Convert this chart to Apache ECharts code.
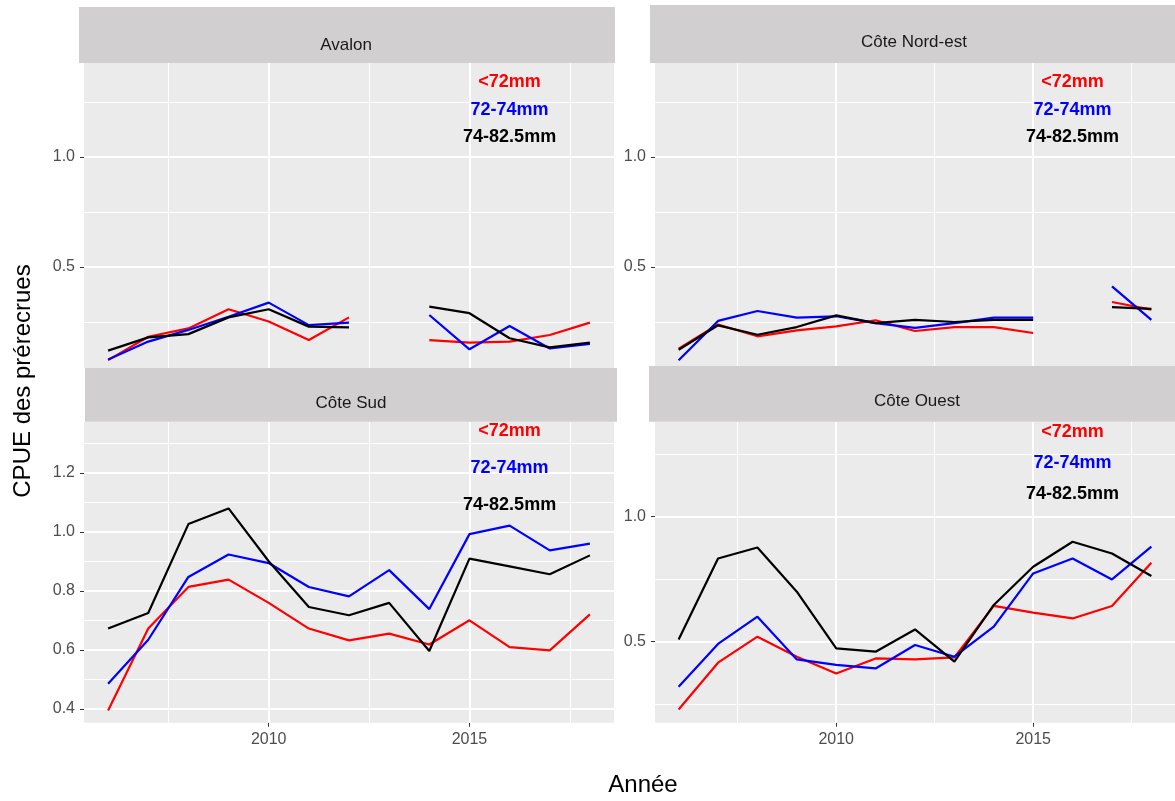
<!DOCTYPE html>
<html><head><meta charset="utf-8">
<script src="https://cdn.jsdelivr.net/npm/echarts@6/dist/echarts.min.js"></script>
<style>html,body{margin:0;padding:0;background:#fff}#c{width:1175px;height:801px}</style>
</head><body><div id="c"></div>
<script>
// ---------- data ----------
const years = [2006, 2007, 2008, 2009, 2010, 2011, 2012, 2013, 2014, 2015, 2016, 2017, 2018];
const panelNames = ['Avalon', 'Côte Nord-est', 'Côte Sud', 'Côte Ouest'];
const classNames = ['<72mm', '72-74mm', '74-82.5mm'];

const avalon_lt72   = [0.077, 0.183, 0.221, 0.308, 0.252, 0.168, 0.271, null, 0.168, 0.156, 0.161, 0.191, 0.247];
const avalon_72_74  = [0.080, 0.161, 0.214, 0.274, 0.338, 0.236, 0.247, null, 0.282, 0.126, 0.232, 0.130, 0.150];
const avalon_74_825 = [0.120, 0.180, 0.195, 0.271, 0.308, 0.229, 0.226, null, 0.320, 0.290, 0.176, 0.135, 0.156];

const nordest_lt72   = [0.129, 0.239, 0.185, 0.212, 0.230, 0.258, 0.209, 0.227, 0.227, 0.200, null, 0.341, 0.306];
const nordest_72_74  = [0.076, 0.255, 0.300, 0.270, 0.276, 0.245, 0.223, 0.245, 0.270, 0.270, null, 0.412, 0.260];
const nordest_74_825 = [0.124, 0.235, 0.192, 0.227, 0.280, 0.245, 0.260, 0.250, 0.260, 0.260, null, 0.318, 0.310];

const sud_lt72   = [0.394, 0.672, 0.813, 0.838, 0.759, 0.672, 0.632, 0.655, 0.618, 0.700, 0.609, 0.598, 0.720];
const sud_72_74  = [0.485, 0.634, 0.847, 0.923, 0.894, 0.813, 0.781, 0.870, 0.738, 0.992, 1.021, 0.937, 0.960];
const sud_74_825 = [0.672, 0.725, 1.026, 1.079, 0.900, 0.745, 0.717, 0.759, 0.596, 0.909, 0.883, 0.856, 0.920];

const ouest_lt72   = [0.229, 0.416, 0.520, 0.440, 0.373, 0.433, 0.429, 0.437, 0.643, 0.616, 0.593, 0.643, 0.816];
const ouest_72_74  = [0.320, 0.491, 0.600, 0.429, 0.407, 0.393, 0.487, 0.440, 0.560, 0.773, 0.833, 0.749, 0.880];
const ouest_74_825 = [0.509, 0.833, 0.877, 0.700, 0.473, 0.460, 0.549, 0.420, 0.647, 0.800, 0.900, 0.853, 0.763];

// label positions (data units)
const labelYear = 2016;
const labelValues = [1.34, 1.215, 1.09];

// axis ticks
const xMajorTicks = [2010, 2015];
const xMinorTicks = [2007.5, 2012.5, 2017.5];
const yMajorTicksTop = [0.5, 1.0];
const yMinorTicksTop = [0.25, 0.75, 1.25];
const yMajorTicksSud = [0.4, 0.6, 0.8, 1.0, 1.2];
const yMinorTicksSud = [0.5, 0.7, 0.9, 1.1, 1.3];
const yMajorTicksOuest = [0.5, 1.0];
const yMinorTicksOuest = [0.25, 0.75, 1.25];

// ---------- layout ----------
const panelData = [
  [avalon_lt72, avalon_72_74, avalon_74_825],
  [nordest_lt72, nordest_72_74, nordest_74_825],
  [sud_lt72, sud_72_74, sud_74_825],
  [ouest_lt72, ouest_72_74, ouest_74_825]
];
const classColors = ['#FF0000', '#0000FF', '#000000'];
const grids = [
  {left: 84,  top: 63,    width: 530, height: 305},
  {left: 655, top: 63,    width: 530, height: 305},
  {left: 84,  top: 421.7, width: 530, height: 301},
  {left: 655, top: 421.7, width: 530, height: 301}
];
const yRanges = [[0.041, 1.427], [0.041, 1.427], [0.353, 1.373], [0.176, 1.38]];
const yMajors = [yMajorTicksTop, yMajorTicksTop, yMajorTicksSud, yMajorTicksOuest];
const yMinors = [yMinorTicksTop, yMinorTicksTop, yMinorTicksSud, yMinorTicksOuest];
const FONT = 'Liberation Sans, Arial, sans-serif';

const option = {
  animation: false,
  backgroundColor: '#ffffff',
  grid: grids.map(g => Object.assign({show: true, backgroundColor: '#EBEBEB', borderWidth: 0}, g)),
  xAxis: grids.map((g, i) => ({
    type: 'value', gridIndex: i, min: 2005.4, max: 2018.6,
    show: i >= 2,
    splitLine: {show: false},
    axisLine: {show: false},
    axisTick: {show: true, customValues: xMajorTicks, length: 4, lineStyle: {color: '#333333', width: 1}},
    axisLabel: {show: true, customValues: xMajorTicks, formatter: v => String(v), color: '#4D4D4D',
                fontSize: 16, fontFamily: FONT, margin: 9}
  })),
  yAxis: grids.map((g, i) => ({
    type: 'value', gridIndex: i, min: yRanges[i][0], max: yRanges[i][1],
    splitLine: {show: false},
    axisLine: {show: false},
    axisTick: {show: true, customValues: yMajors[i], length: 4, lineStyle: {color: '#333333', width: 1}},
    axisLabel: {show: true, customValues: yMajors[i], formatter: v => v.toFixed(1), color: '#4D4D4D',
                fontSize: 16, fontFamily: FONT, margin: 9}
  })),
  series: [],
  graphic: []
};

for (let p = 0; p < 4; p++) {
  // grid lines
  const ml = [];
  yMinors[p].forEach(v => ml.push({yAxis: v, lineStyle: {color: '#FFFFFF', width: 1}}));
  xMinorTicks.forEach(v => ml.push({xAxis: v, lineStyle: {color: '#FFFFFF', width: 1}}));
  yMajors[p].forEach(v => ml.push({yAxis: v, lineStyle: {color: '#FFFFFF', width: 2}}));
  xMajorTicks.forEach(v => ml.push({xAxis: v, lineStyle: {color: '#FFFFFF', width: 2}}));
  option.series.push({
    type: 'line', xAxisIndex: p, yAxisIndex: p, data: [], silent: true, z: 1,
    markLine: {silent: true, symbol: 'none', z: 1, label: {show: false},
               lineStyle: {type: 'solid', color: '#FFFFFF'}, data: ml, animation: false}
  });
  // data lines
  panelData[p].forEach((arr, c) => {
    option.series.push({
      type: 'line', name: classNames[c], xAxisIndex: p, yAxisIndex: p, z: 5,
      showSymbol: false, symbol: 'none', connectNulls: false,
      lineStyle: {color: classColors[c], width: 2.2}, itemStyle: {color: classColors[c]},
      data: years.map((y, k) => [y, arr[k] === null ? null : arr[k]])
    });
  });
  // annotations
  option.series.push({
    type: 'scatter', xAxisIndex: p, yAxisIndex: p, z: 6, symbolSize: 0, silent: true,
    itemStyle: {opacity: 1},
    data: classNames.map((n, c) => ({
      name: n, value: [labelYear, labelValues[c]],
      itemStyle: {opacity: 1},
      label: {show: true, position: 'inside', formatter: '{b}', color: classColors[c], opacity: 1,
              fontSize: 18, fontWeight: 'bold', fontFamily: FONT}
    }))
  });
}

// strips
const strips = [
  {x: 79, y: 7, w: 536, h: 56, tx: 346, ty: 45},
  {x: 650, y: 5, w: 540, h: 58, tx: 914, ty: 42},
  {x: 85, y: 368, w: 532, h: 53.7, tx: 351, ty: 403.5},
  {x: 649, y: 366, w: 540, h: 55.7, tx: 917, ty: 401.5}
];
strips.forEach((s, i) => {
  option.graphic.push({type: 'rect', z: 20, shape: {x: s.x, y: s.y, width: s.w, height: s.h},
                       style: {fill: '#D1CFD0'}});
  option.graphic.push({type: 'text', z: 21, x: s.tx, y: s.ty,
                       style: {text: panelNames[i], fill: '#1A1A1A', font: '17px ' + FONT,
                               textAlign: 'center', textVerticalAlign: 'middle'}});
});
// axis titles
option.graphic.push({type: 'text', z: 21, x: 643, y: 785,
  style: {text: 'Année', fill: '#000000', font: '24px ' + FONT, textAlign: 'center', textVerticalAlign: 'middle'}});
option.graphic.push({type: 'text', z: 21, x: 23, y: 381, rotation: Math.PI / 2,
  style: {text: 'CPUE des prérecrues', fill: '#000000', font: '24px ' + FONT, textAlign: 'center', textVerticalAlign: 'middle'}});

const chart = echarts.init(document.getElementById('c'), null, {renderer: 'canvas'});
chart.setOption(option);
</script>
</body></html>
